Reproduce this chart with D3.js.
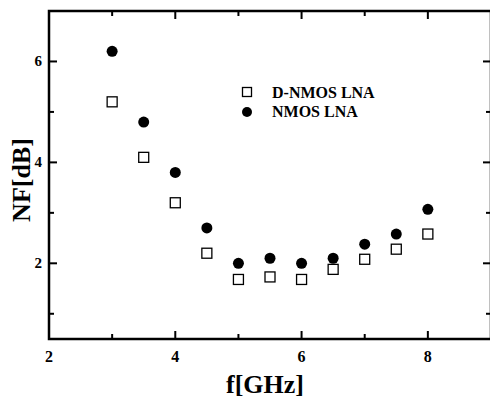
<!DOCTYPE html>
<html>
<head>
<meta charset="utf-8">
<script src="https://cdn.jsdelivr.net/npm/d3@7"></script>
<style>
  body { margin: 0; background: #fff; }
  text { font-family: "Liberation Serif", "DejaVu Serif", serif; font-weight: bold; }
</style>
</head>
<body>
<svg id="chart" width="490" height="399"></svg>
<script>
const freq = [3, 3.5, 4, 4.5, 5, 5.5, 6, 6.5, 7, 7.5, 8];
const nfDNmos = [5.2, 4.1, 3.2, 2.2, 1.68, 1.73, 1.68, 1.88, 2.08, 2.28, 2.58];
const nfNmos = [6.2, 4.8, 3.8, 2.7, 2.0, 2.1, 2.0, 2.1, 2.38, 2.58, 3.07];
const xTicks = [2, 4, 6, 8];
const yTicks = [2, 4, 6];
const xMinor = [3, 5, 7];
const yMinor = [1, 3, 5];
const legendNames = ["D-NMOS LNA", "NMOS LNA"];

const svg = d3.select("#chart");
const mLeft = 49, mRight = 491, mTop = 11, mBottom = 339;

const x = d3.scaleLinear().domain([2, 9]).range([mLeft, mRight]);
const y = d3.scaleLinear().domain([0.5, 7]).range([mBottom, mTop]);

const g = svg.append("g");

// frame
g.append("rect")
  .attr("x", mLeft).attr("y", mTop)
  .attr("width", mRight - mLeft).attr("height", mBottom - mTop)
  .attr("fill", "none").attr("stroke", "#000").attr("stroke-width", 2.5);

// ticks point inward on all four sides
function tick(x1, y1, x2, y2) {
  g.append("line").attr("x1", x1).attr("y1", y1).attr("x2", x2).attr("y2", y2)
    .attr("stroke", "#000").attr("stroke-width", 2);
}
xTicks.forEach(v => { tick(x(v), mBottom, x(v), mBottom - 8); tick(x(v), mTop, x(v), mTop + 8); });
xMinor.forEach(v => { tick(x(v), mBottom, x(v), mBottom - 5); tick(x(v), mTop, x(v), mTop + 5); });
yTicks.forEach(v => { tick(mLeft, y(v), mLeft + 8, y(v)); tick(mRight, y(v), mRight - 8, y(v)); });
yMinor.forEach(v => { tick(mLeft, y(v), mLeft + 5, y(v)); tick(mRight, y(v), mRight - 5, y(v)); });

// tick labels
g.selectAll(".xl").data(xTicks).enter().append("text")
  .attr("x", d => x(d)).attr("y", 362)
  .attr("text-anchor", "middle").attr("font-size", 16)
  .text(d => d);
g.selectAll(".yl").data(yTicks).enter().append("text")
  .attr("x", 42).attr("y", d => y(d) + 5)
  .attr("text-anchor", "end").attr("font-size", 15)
  .text(d => d);

// axis titles
svg.append("text")
  .attr("x", 265).attr("y", 393)
  .attr("text-anchor", "middle").attr("font-size", 26)
  .text("f[GHz]");
svg.append("text")
  .attr("transform", "translate(30,180) rotate(-90)")
  .attr("text-anchor", "middle").attr("font-size", 26)
  .text("NF[dB]");

// data
g.selectAll(".sq").data(freq).enter().append("rect")
  .attr("x", d => x(d) - 5).attr("y", (d, i) => y(nfDNmos[i]) - 5)
  .attr("width", 10).attr("height", 10)
  .attr("fill", "#fff").attr("stroke", "#000").attr("stroke-width", 1.3);

g.selectAll(".ci").data(freq).enter().append("circle")
  .attr("cx", d => x(d)).attr("cy", (d, i) => y(nfNmos[i]))
  .attr("r", 5.5).attr("fill", "#000");

// legend
const lg = svg.append("g").attr("transform", "translate(247,92)");
lg.append("rect").attr("x", -4.5).attr("y", -4.5).attr("width", 9).attr("height", 9)
  .attr("fill", "#fff").attr("stroke", "#000").attr("stroke-width", 1.3);
lg.append("circle").attr("cx", 0).attr("cy", 20).attr("r", 5).attr("fill", "#000");
lg.selectAll(".lt").data(legendNames).enter().append("text")
  .attr("x", 25).attr("y", (d, i) => i * 19 + 5.5)
  .attr("font-size", 16)
  .text(d => d);
</script>
</body>
</html>
